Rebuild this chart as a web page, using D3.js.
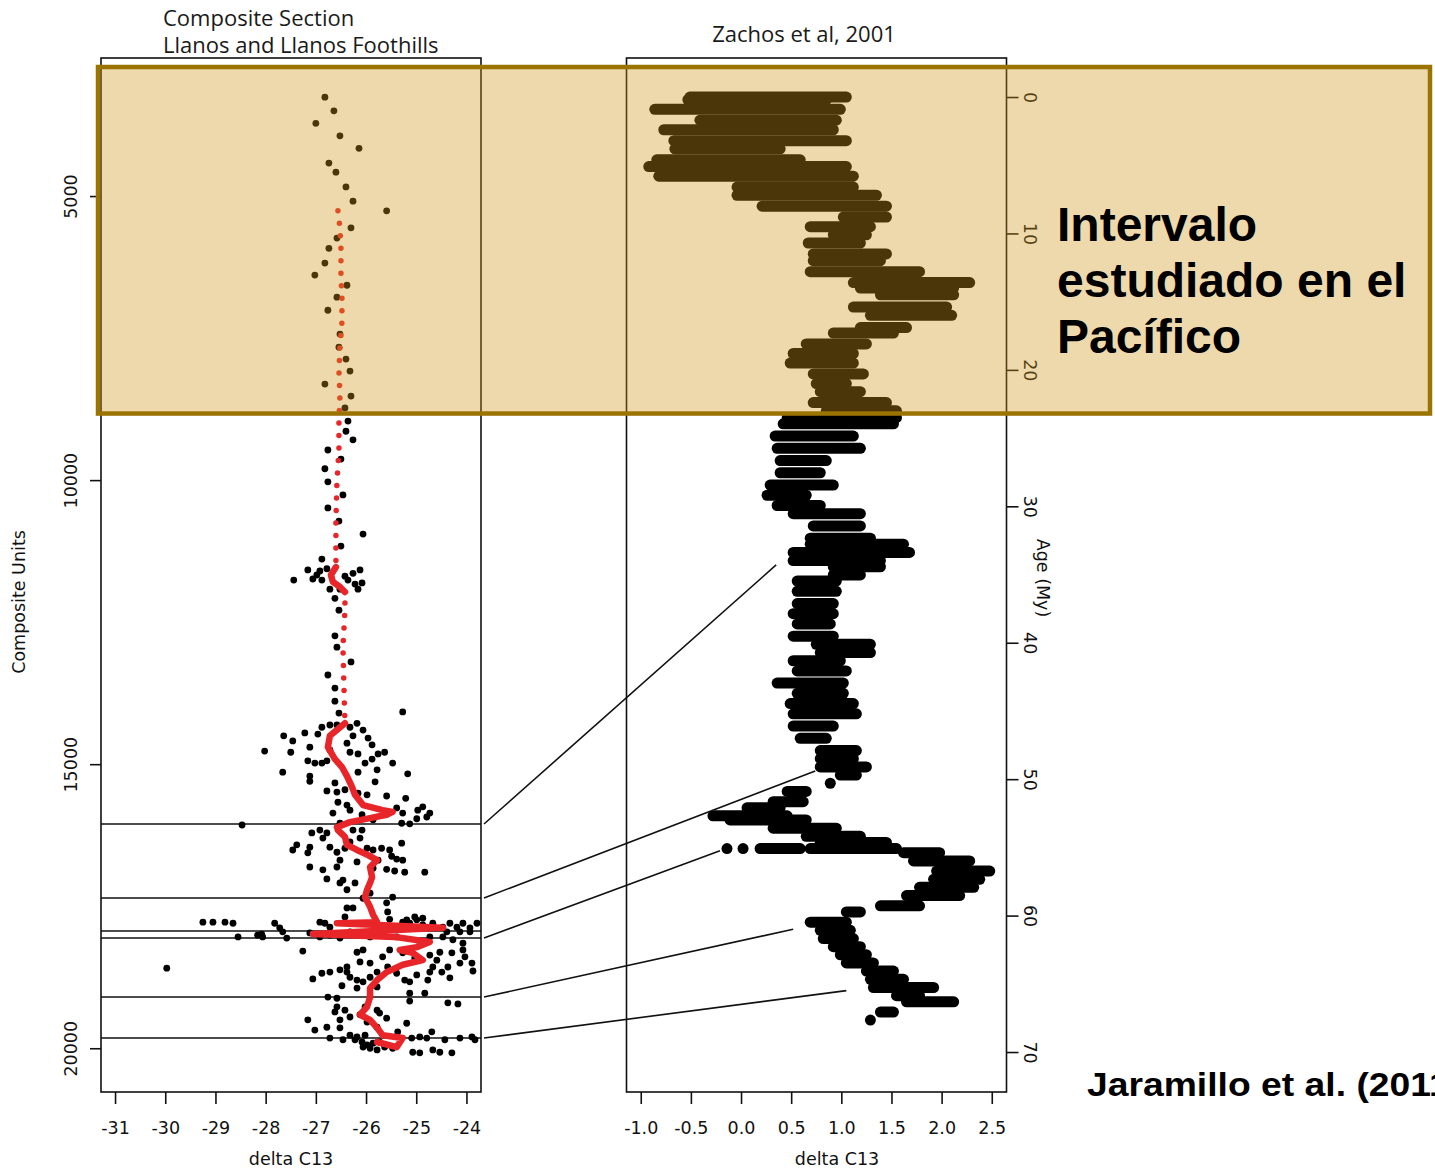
<!DOCTYPE html>
<html>
<head>
<meta charset="utf-8">
<script src="https://cdn.jsdelivr.net/npm/d3@7"></script>
<style>
  body { margin: 0; background: #fff; }
</style>
</head>
<body>
<svg id="chart"></svg>
<script>
// ---- data ----
// left panel: composite section, [composite units, delta C13]
const compositePts = [
  [3260,-26.82],[3500,-26.64],[3720,-27.00],[3940,-26.52],[4160,-26.14],[4420,-26.74],[4580,-26.60],[4840,-26.40],
  [5090,-26.26],[5260,-25.59],[5560,-26.30],[5740,-26.58],[5920,-26.74],[6180,-26.82],[6390,-27.02],[6570,-26.38],
  [6780,-26.58],[7010,-26.76],[7430,-26.52],[7660,-26.54],[7870,-26.40],[8080,-26.32],[8310,-26.82],[8520,-26.30],
  [8730,-26.42],[8960,-26.36],[9140,-26.40],[9290,-26.26],[9470,-26.76],[9630,-26.50],[9800,-26.82],[10030,-26.76],
  [10260,-26.46],[10490,-26.76],[10720,-26.54],[10950,-26.06],[11160,-26.50],[11390,-26.88],
  [11580,-27.16],[11740,-27.06],[11760,-27.44],[11600,-26.92],[11560,-26.78],[11760,-26.88],[11920,-26.72],[11690,-26.42],
  [11640,-26.26],[11580,-26.12],[11830,-26.22],[11810,-26.08],[11920,-26.16],[11760,-26.36],[12080,-26.62],[11920,-26.52],
  [11670,-26.98],[12290,-26.54],[12740,-26.62],[12940,-26.58],[13200,-26.30],[13430,-26.76],[13660,-26.62],[13890,-26.62],
  [14100,-26.54],[14080,-25.27],
  [14500,-27.64],[14590,-27.46],[14770,-28.02],[14790,-27.50],[15140,-27.66],[14450,-27.22],[14700,-27.12],[14940,-27.16],
  [14470,-26.96],[14350,-26.88],[14310,-26.72],[14310,-26.58],[14350,-26.32],[14280,-26.18],[14400,-26.06],[14500,-26.26],
  [14540,-25.96],[14660,-25.88],[14630,-26.38],[14790,-26.32],[14820,-26.16],[14820,-25.76],[14790,-25.63],[14980,-25.47],
  [14910,-25.88],[14980,-26.02],[15170,-25.17],[14980,-26.88],[14940,-26.78],[14980,-27.02],[15100,-25.78],[15140,-26.16],
  [15210,-27.12],[14750,-26.72],
  [15300,-27.12],[15330,-26.62],[15310,-25.82],[15470,-26.78],[15490,-26.58],[15450,-26.42],[15510,-26.16],[15540,-25.98],
  [15560,-25.59],[15600,-25.21],[15670,-26.56],[15720,-26.38],[15810,-26.32],[15860,-26.66],[15890,-26.08],[15770,-25.39],
  [15860,-25.27],[15810,-24.97],[15750,-24.87],[15860,-24.73],[15930,-24.79],[15960,-24.99],[16050,-25.13],[16040,-25.29],
  [15980,-25.86],[16040,-26.52],[16070,-28.47],
  [16160,-26.92],[16210,-26.78],[16210,-27.08],[16300,-26.86],[16160,-26.26],[16160,-26.08],[16370,-26.32],[16300,-26.12],
  [16390,-25.29],[16420,-27.38],[16510,-27.46],[16460,-27.12],[16460,-26.72],[16550,-26.58],[16480,-26.42],[16480,-25.98],
  [16510,-25.86],[16480,-25.69],[16510,-25.53],[16560,-27.16],[16620,-25.49],[16670,-25.39],[16690,-25.27],[16690,-26.52],
  [16720,-26.18],[16690,-25.76],[16810,-27.12],[16860,-26.86],[16810,-26.58],[16850,-25.59],[16880,-25.43],[16900,-25.23],
  [16900,-24.83],[16830,-25.86],[17020,-26.78],[17040,-26.46],[17090,-26.52],[17090,-26.22],[17210,-26.38],[17270,-25.92],
  [17340,-25.47],[17360,-26.06],
  [17530,-26.38],[17530,-26.26],[17440,-25.59],[17690,-26.42],[17600,-25.57],[17730,-25.53],[17690,-25.03],[17710,-24.87],
  [17740,-25.19],[17780,-26.92],[17800,-26.82],[17870,-26.72],
  [17780,-29.25],[17780,-29.05],[17780,-28.81],[17800,-28.65],[17800,-27.82],[17880,-27.72],[17950,-27.66],[17990,-28.08],
  [18040,-28.06],[18040,-28.55],[18010,-28.16],[18060,-27.58],[17970,-27.12],[18040,-26.92],[18010,-26.72],[18060,-26.52],
  [17950,-26.32],[18010,-26.08],[18040,-25.92],[17970,-25.67],[18040,-25.39],[17780,-25.27],[17800,-25.13],[17740,-24.99],
  [17830,-24.87],[17800,-24.67],[17870,-24.47],[17800,-24.33],[17870,-24.19],[17800,-24.07],[17880,-23.93],[17800,-23.79],
  [17950,-24.39],[17950,-24.13],[17950,-23.93],[18040,-24.73],[18040,-24.47],[18090,-24.27],[18150,-24.07],[18590,-29.97],
  [18290,-27.26],[18310,-26.18],[18270,-26.06],[18390,-25.67],[18270,-25.53],[18320,-25.27],[18410,-25.03],[18360,-24.73],
  [18450,-24.59],[18310,-24.53],[18320,-24.29],[18270,-24.07],[18390,-24.03],[18480,-26.12],[18500,-25.92],[18570,-26.38],
  [18570,-24.37],[18500,-24.13],[18500,-23.89],[18680,-26.88],[18660,-26.72],[18620,-26.52],[18660,-26.38],[18750,-26.32],
  [18800,-26.18],[18830,-26.06],[18750,-25.92],[18660,-25.78],[18570,-25.57],[18680,-25.39],[18800,-25.23],[18830,-25.13],
  [18710,-24.99],[18800,-24.77],[18660,-24.73],[18570,-24.67],[18660,-24.49],[18760,-24.33],[18640,-23.87],[18780,-27.06],
  [18900,-26.48],[18940,-26.18],[18920,-25.78],[19030,-25.13],[19030,-24.83],
  [19100,-26.76],[19120,-26.58],[19170,-25.13],[19200,-24.37],[19220,-24.17],[19270,-26.58],[19360,-26.62],[19330,-26.42],
  [19270,-26.02],[19330,-25.78],[19380,-25.73],[19410,-26.12],[19470,-25.59],[19500,-27.16],[19500,-26.52],[19450,-26.32],
  [19540,-25.98],[19680,-27.02],[19630,-26.78],[19640,-26.52],[19630,-25.78],[19560,-25.19],[19710,-25.37],[19710,-24.69],
  [19820,-26.72],[19850,-26.46],[19800,-26.18],[19890,-26.08],[19940,-25.98],[19910,-25.86],[19820,-25.09],[19800,-24.93],
  [19820,-24.79],[19850,-24.43],[19820,-24.13],[19800,-23.89],[19850,-23.83],[20030,-25.78],[20000,-25.47],[20070,-25.07],
  [20080,-24.93],[20030,-24.67],[20070,-24.53],[20080,-24.29],[19980,-26.06],[20000,-25.92],[19770,-26.32],[19850,-26.22],
  [19770,-26.02],[19890,-25.73],[19980,-25.63]
];

// smoothed curve (red), sparse upper part drawn dotted
const smoothUpper = [
  [5260,-26.56],[5560,-26.52],[5920,-26.50],[6390,-26.50],[6780,-26.48],[7220,-26.48],[7660,-26.52],[8080,-26.54],
  [8520,-26.52],[8960,-26.54],[9470,-26.54],[10030,-26.58],[10720,-26.60],[11390,-26.60],[11530,-26.60],[11670,-26.70],
  [11790,-26.66],[11880,-26.52],[11970,-26.42],[12290,-26.42],[12940,-26.46],[13660,-26.44],[14280,-26.42]
];
const smoothCluster = [[11530,-26.60],[11670,-26.70],[11790,-26.66],[11880,-26.52],[11970,-26.42]];
const smoothLower = [
  [14280,-26.42],[14500,-26.72],[14700,-26.76],[14910,-26.62],[15050,-26.48],[15210,-26.38],[15400,-26.28],[15540,-26.22],
  [15720,-26.06],[15810,-25.67],[15840,-25.47],[15890,-25.59],[15950,-25.92],[16020,-26.32],[16110,-26.58],[16160,-26.56],
  [16280,-26.42],[16420,-26.38],[16510,-26.18],[16600,-25.96],[16690,-25.78],[16810,-25.92],[16990,-25.88],[17090,-25.92],
  [17210,-25.98],[17340,-26.02],[17510,-25.92],[17650,-25.86],[17780,-25.78],[17800,-26.58],[17880,-24.47],[17990,-27.06],
  [18040,-25.43],[18130,-24.73],[18220,-24.99],[18270,-25.33],[18320,-25.07],[18450,-24.87],[18530,-25.27],[18660,-25.59],
  [18800,-25.78],[18940,-25.92],[19100,-25.92],[19270,-25.98],[19410,-26.12],[19500,-25.92],[19640,-25.78],[19770,-25.67],
  [19820,-25.27],[19980,-25.39],[19890,-25.78]
];

// right panel: Zachos et al. 2001, rows of overlapping points [age My, min delta, max delta]
const zachosRows = [
  [0.0,-0.51,1.05],[0.2,-0.53,0.85],[0.9,-0.86,0.99],[1.7,-0.41,0.95],[2.4,-0.77,0.92],[3.2,-0.67,1.05],[3.8,-0.66,0.39],
  [4.6,-0.84,0.59],[5.1,-0.92,1.05],[5.8,-0.82,1.12],[6.6,-0.04,1.12],[7.2,-0.04,1.35],[8.0,0.21,1.45],[8.8,1.02,1.45],
  [9.5,0.69,1.29],[10.1,0.92,1.25],[10.7,0.67,1.19],[11.5,0.72,1.45],[12.0,0.72,1.39],[12.8,0.69,1.78],[13.6,1.12,2.28],
  [14.0,1.19,2.12],[14.5,1.39,2.12],[15.4,1.12,2.05],[16.0,1.29,2.10],[16.9,1.19,1.65],[17.3,0.92,1.52],[18.1,0.65,1.25],
  [18.8,0.52,1.12],[19.5,0.49,1.12],[20.3,0.72,1.22],[21.0,0.75,1.05],[21.6,0.79,1.19],[22.4,0.72,1.45],[23.0,0.85,1.55],
  [23.5,0.46,1.55],[23.95,0.42,1.52],[24.85,0.34,1.12],[25.75,0.36,1.19],[26.65,0.39,0.85],[27.54,0.39,0.79],
  [28.44,0.29,0.92],[29.19,0.26,0.65],[29.94,0.36,0.79],[30.54,0.52,1.19],[31.44,0.72,1.19],[32.34,0.69,1.29],
  [32.78,0.69,1.62],[33.38,0.52,1.68],[33.98,0.52,1.39],[34.43,0.92,1.39],[35.03,0.92,1.19],[35.48,0.56,0.95],
  [36.23,0.56,0.95],[37.13,0.56,0.92],[37.87,0.52,0.92],[38.62,0.56,0.89],[39.52,0.52,0.92],[40.12,0.75,1.29],
  [40.72,0.79,1.29],[41.32,0.52,0.99],[42.07,0.56,1.05],[42.96,0.36,1.02],[43.71,0.56,1.02],[44.46,0.49,1.12],
  [45.21,0.52,1.15],[46.11,0.52,0.92],[47.01,0.59,0.85],[47.90,0.79,1.15],[48.50,0.79,1.12],[49.10,0.79,1.25],
  [49.70,0.99,1.15],[50.30,0.89,0.89],[50.90,0.46,0.65],[51.65,0.32,0.62],[52.10,0.06,0.39],[52.69,-0.28,0.46],
  [52.99,-0.11,0.65],[53.59,0.32,0.95],[54.19,0.65,1.19],[54.64,0.79,1.45],[55.09,-0.14,-0.14],[55.09,0.02,0.02],
  [55.09,0.19,0.59],[55.09,0.69,1.55],[55.39,1.62,1.98],[55.99,1.72,2.28],[56.74,1.95,2.48],[57.34,1.92,2.38],
  [57.93,1.78,2.32],[58.53,1.65,2.18],[59.28,1.39,1.78],[59.73,1.05,1.19],[60.48,0.69,1.05],[61.08,0.79,1.09],
  [61.68,0.82,1.12],[62.28,0.92,1.19],[62.87,0.99,1.25],[63.47,1.05,1.32],[64.07,1.25,1.52],[64.67,1.29,1.62],
  [65.27,1.32,1.92],[65.87,1.55,1.78],[66.32,1.65,2.12],[67.07,1.39,1.52],[67.66,1.29,1.29]
];

// correlation levels in the composite section and their tie points in Zachos curve
const tieUnits = [16053, 17355, 17936, 18059, 19098, 19819];
const ties = [
  {units: 16053, age: 34.3, delta: 0.35},
  {units: 17355, age: 49.4, delta: 0.74},
  {units: 18059, age: 55.25, delta: -0.21},
  {units: 19098, age: 61.0, delta: 0.52},
  {units: 19819, age: 65.5, delta: 1.05}
];

const leftTicks = [-31, -30, -29, -28, -27, -26, -25, -24];
const unitTicks = [5000, 10000, 15000, 20000];
const rightTicks = [-1.0, -0.5, 0.0, 0.5, 1.0, 1.5, 2.0, 2.5];
const ageTicks = [0, 10, 20, 30, 40, 50, 60, 70];
const studiedAges = [-2.2, 23.2]; // highlighted interval (Pacific)

// ---- layout ----
const width = 1435, height = 1168;
const rFont = 'DejaVu Sans, sans-serif';
const tFont = 'Open Sans, sans-serif';
const bFont = 'Liberation Sans, Arial, sans-serif';

const xLeft = d3.scaleLinear([-31.28, -23.71], [101, 481]);
const yLeft = d3.scaleLinear([2570, 20770], [58, 1092]);
const xRight = d3.scaleLinear([-1.142, 2.647], [626.5, 1006.5]);
const yRight = d3.scaleLinear([-2.86, 72.93], [58, 1092]);

const svg = d3.select('#chart')
    .attr('width', width)
    .attr('height', height)
    .attr('viewBox', [0, 0, width, height])
    .style('display', 'block');

svg.append('rect').attr('width', width).attr('height', height).attr('fill', '#fff');

// horizontal correlation levels
svg.append('g')
    .attr('stroke', '#111')
    .attr('stroke-width', 1.6)
  .selectAll('line')
  .data(tieUnits)
  .join('line')
    .attr('x1', xLeft.range()[0])
    .attr('x2', xLeft.range()[1])
    .attr('y1', d => yLeft(d))
    .attr('y2', d => yLeft(d));

// composite points
svg.append('g')
  .selectAll('circle')
  .data(compositePts)
  .join('circle')
    .attr('cx', d => xLeft(d[1]))
    .attr('cy', d => yLeft(d[0]))
    .attr('r', 3.4)
    .attr('fill', '#000');

// smoothed curve
const smooth = d3.line().x(d => xLeft(d[1])).y(d => yLeft(d[0]));
svg.append('path')
    .attr('d', smooth(smoothUpper))
    .attr('fill', 'none')
    .attr('stroke', '#e8262a')
    .attr('stroke-width', 5.5)
    .attr('stroke-linecap', 'round')
    .attr('stroke-dasharray', '0 12.5');
[smoothCluster, smoothLower].forEach(seg => {
  svg.append('path')
      .attr('d', smooth(seg))
      .attr('fill', 'none')
      .attr('stroke', '#e8262a')
      .attr('stroke-width', 6.5)
      .attr('stroke-linejoin', 'round')
      .attr('stroke-linecap', 'round');
});

// Zachos cloud
svg.append('g')
    .attr('stroke', '#000')
    .attr('stroke-width', 11)
    .attr('stroke-linecap', 'round')
  .selectAll('line')
  .data(zachosRows)
  .join('line')
    .attr('x1', d => xRight(d[1]))
    .attr('x2', d => xRight(d[2]))
    .attr('y1', d => yRight(d[0]))
    .attr('y2', d => yRight(d[0]));

// tie lines between panels
svg.append('g')
    .attr('stroke', '#111')
    .attr('stroke-width', 1.6)
  .selectAll('line')
  .data(ties)
  .join('line')
    .attr('x1', xLeft.range()[1] + 3)
    .attr('y1', d => yLeft(d.units))
    .attr('x2', d => xRight(d.delta))
    .attr('y2', d => yRight(d.age));

// frames
[[xLeft, yLeft], [xRight, yRight]].forEach(([x, y]) => {
  svg.append('rect')
      .attr('x', x.range()[0]).attr('y', y.range()[0])
      .attr('width', x.range()[1] - x.range()[0])
      .attr('height', y.range()[1] - y.range()[0])
      .attr('fill', 'none').attr('stroke', '#111').attr('stroke-width', 1.6);
});

const styleAxis = g => g
    .call(g => g.select('.domain').remove())
    .call(g => g.selectAll('.tick line').attr('stroke', '#111').attr('stroke-width', 1.6))
    .call(g => g.selectAll('.tick text').attr('fill', '#111'))
    .attr('font-family', rFont)
    .attr('font-size', 17.5);

svg.append('g')
    .attr('transform', `translate(0,${yLeft.range()[1]})`)
    .call(d3.axisBottom(xLeft).tickValues(leftTicks).tickSize(12).tickPadding(18).tickFormat(d => String(d)))
    .call(styleAxis);

svg.append('g')
    .attr('transform', `translate(0,${yRight.range()[1]})`)
    .call(d3.axisBottom(xRight).tickValues(rightTicks).tickSize(12).tickPadding(18).tickFormat(d => d.toFixed(1)))
    .call(styleAxis);

svg.append('g')
    .attr('transform', `translate(${xLeft.range()[0]},0)`)
    .call(d3.axisLeft(yLeft).tickValues(unitTicks).tickSize(11).tickFormat(d => String(d)))
    .call(styleAxis)
    .call(g => g.selectAll('.tick text')
        .attr('x', null).attr('dy', null)
        .attr('text-anchor', 'middle')
        .attr('transform', 'translate(-24,0) rotate(-90)'));

svg.append('g')
    .attr('transform', `translate(${xRight.range()[1]},0)`)
    .call(d3.axisRight(yRight).tickValues(ageTicks).tickSize(12).tickFormat(d => String(d)))
    .call(styleAxis)
    .call(g => g.selectAll('.tick text')
        .attr('x', null).attr('dy', null)
        .attr('text-anchor', 'middle')
        .attr('transform', 'translate(17,0) rotate(90)'));

// axis titles
const label = (txt, x, y, rot, anchor = 'middle') => svg.append('text')
    .attr('transform', `translate(${x},${y}) rotate(${rot})`)
    .attr('text-anchor', anchor)
    .attr('font-family', rFont).attr('font-size', 17.5).attr('fill', '#111')
    .text(txt);
label('delta C13', d3.mean(xLeft.range()), 1165, 0);
label('delta C13', 837, 1165, 0);
label('Composite Units', 25, 602, -90);
label('Age (My)', 1036.5, 578, 90);

// panel titles
svg.append('text').attr('x', 163).attr('y', 26)
    .attr('font-family', tFont).attr('font-size', 22).attr('fill', '#1a1a1a')
    .text('Composite Section');
svg.append('text').attr('x', 163).attr('y', 53)
    .attr('font-family', tFont).attr('font-size', 22).attr('fill', '#1a1a1a')
    .text('Llanos and Llanos Foothills');
svg.append('text').attr('x', 804).attr('y', 42).attr('text-anchor', 'middle')
    .attr('font-family', tFont).attr('font-size', 22).attr('fill', '#1a1a1a')
    .text('Zachos et al, 2001');

// highlighted interval box
const boxTop = yRight(studiedAges[0]), boxBottom = yRight(studiedAges[1]);
svg.append('rect')
    .attr('x', 98).attr('y', boxTop)
    .attr('width', 1332).attr('height', boxBottom - boxTop)
    .attr('fill', 'rgb(205,150,22)').attr('fill-opacity', 0.36);
svg.append('rect')
    .attr('x', 98).attr('y', boxTop)
    .attr('width', 1332).attr('height', boxBottom - boxTop)
    .attr('fill', 'none').attr('stroke', '#9b7300').attr('stroke-width', 4.5);

const note = svg.append('text')
    .attr('font-family', bFont).attr('font-weight', 'bold').attr('font-size', 48).attr('fill', '#000');
['Intervalo', 'estudiado en el', 'Pacífico'].forEach((t, i) => {
  note.append('tspan').attr('x', 1057).attr('y', 241 + i * 56).text(t);
});

// citation, running off the right edge as in the source slide
svg.append('text')
    .attr('transform', 'translate(1087,1096) scale(1.13,1)')
    .attr('font-family', bFont).attr('font-weight', 'bold').attr('font-size', 33).attr('fill', '#000')
    .text('Jaramillo et al. (2011)');
</script>
</body>
</html>
